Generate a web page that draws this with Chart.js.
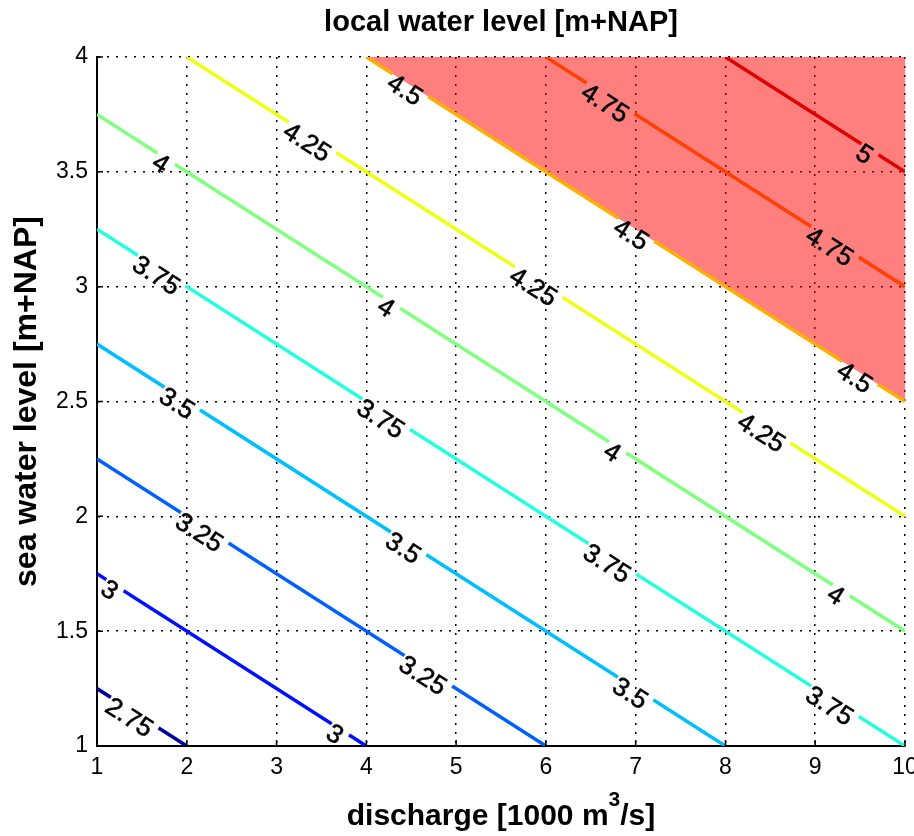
<!DOCTYPE html>
<html>
<head>
<meta charset="utf-8">
<title>local water level</title>
<script src="https://cdn.jsdelivr.net/npm/chart.js@4/dist/chart.umd.min.js"></script>
<style>
    html, body { margin: 0; padding: 0; background: #fff; }
    canvas { display: block; }
</style>
</head>
<body>
<canvas id="contourChart" width="914" height="836"></canvas>
<script>
// CONTOUR DATA
const levels     = [2.75, 3, 3.25, 3.5, 3.75, 4, 4.25, 4.5, 4.75, 5];
const lineStartX = [1, 1, 1, 1, 1, 1, 2, 4, 6, 8];
const lineStartY = [1.25, 1.75, 2.25, 2.75, 3.25, 3.75, 4, 4, 4, 4];
const lineEndX   = [2, 4, 6, 8, 10, 10, 10, 10, 10, 10];
const lineEndY   = [1, 1, 1, 1, 1, 1.5, 2, 2.5, 3, 3.5];

// inline contour labels: level and the x where the label sits on its line
const labelLevels = [2.75, 3, 3, 3.25, 3.25, 3.5, 3.5, 3.5, 3.75, 3.75, 3.75, 3.75,
                     4, 4, 4, 4, 4.25, 4.25, 4.25, 4.5, 4.5, 4.5, 4.75, 4.75, 5];
const labelX      = [1.42, 1.2, 3.71, 2.2, 4.69, 1.95, 4.47, 7.0, 1.72, 4.22, 6.74, 9.22,
                     1.77, 4.28, 6.8, 9.29, 3.4, 5.92, 8.46, 4.49, 7.01, 9.5, 6.72, 9.22, 9.61];

const xTicks = [1, 2, 3, 4, 5, 6, 7, 8, 9, 10];
const yTicks = [1, 1.5, 2, 2.5, 3, 3.5, 4];

// area above this contour is shaded
const shadedLevel = 4.5;

const levelColors = ['#00009f', '#0010ff', '#0060ff', '#00bfff', '#20ffdf',
                     '#80ff80', '#efff10', '#ffaf00', '#ff4000', '#df0000'];

const FONT = '"Liberation Sans", Arial, sans-serif';
const LABEL_FONT = '26px ' + FONT;

function contourPoints(i) {
    return [
        { x: lineStartX[i], y: lineStartY[i] },
        { x: lineEndX[i], y: lineEndY[i] }
    ];
}

// pixel position + angle of every label belonging to contour i
function labelPlacements(chart, i) {
    const xs = chart.scales.x, ys = chart.scales.y;
    const x1 = xs.getPixelForValue(lineStartX[i]), y1 = ys.getPixelForValue(lineStartY[i]);
    const x2 = xs.getPixelForValue(lineEndX[i]), y2 = ys.getPixelForValue(lineEndY[i]);
    const angle = Math.atan2(y2 - y1, x2 - x1);
    const ctx = chart.ctx;
    ctx.save();
    ctx.font = LABEL_FONT;
    const out = [];
    labelLevels.forEach((lvl, k) => {
        if (lvl !== levels[i]) return;
        const px = xs.getPixelForValue(labelX[k]);
        const t = (px - x1) / (x2 - x1);
        const text = String(lvl);
        out.push({ x: px, y: y1 + t * (y2 - y1), angle: angle, text: text, width: ctx.measureText(text).width });
    });
    ctx.restore();
    return out;
}

// cut gaps into the contour lines where labels go, then write the labels
const contourLabelPlugin = {
    id: 'contourLabels',
    beforeDatasetDraw(chart, args) {
        const i = chart.data.datasets[args.index].contourIndex;
        if (i === undefined) return;
        const ctx = chart.ctx;
        ctx.save();
        ctx.beginPath();
        ctx.rect(0, 0, chart.width, chart.height);
        labelPlacements(chart, i).forEach(p => {
            const hw = p.width / 2 + 3, hh = 12;
            const c = Math.cos(p.angle), s = Math.sin(p.angle);
            [[-hw, -hh], [hw, -hh], [hw, hh], [-hw, hh]].forEach(([u, v], k) => {
                const X = p.x + u * c - v * s, Y = p.y + u * s + v * c;
                if (k === 0) ctx.moveTo(X, Y); else ctx.lineTo(X, Y);
            });
            ctx.closePath();
        });
        ctx.clip('evenodd');
    },
    afterDatasetDraw(chart, args) {
        if (chart.data.datasets[args.index].contourIndex === undefined) return;
        chart.ctx.restore();
    },
    afterDatasetsDraw(chart) {
        const ctx = chart.ctx, area = chart.chartArea;
        ctx.save();
        ctx.beginPath();
        ctx.rect(area.left, area.top, area.right - area.left, area.bottom - area.top);
        ctx.clip();
        ctx.font = LABEL_FONT;
        ctx.fillStyle = '#000';
        ctx.strokeStyle = '#000';
        ctx.lineWidth = 0.6;
        ctx.textAlign = 'center';
        ctx.textBaseline = 'middle';
        levels.forEach((lvl, i) => {
            labelPlacements(chart, i).forEach(p => {
                ctx.save();
                ctx.translate(p.x, p.y);
                ctx.rotate(p.angle);
                ctx.fillText(p.text, -2, 8);
                ctx.strokeText(p.text, -2, 8);
                ctx.restore();
            });
        });
        ctx.restore();
    }
};

// inward tick marks and the x axis title (with superscript)
const axisExtrasPlugin = {
    id: 'axisExtras',
    afterDraw(chart) {
        const ctx = chart.ctx, area = chart.chartArea;
        const xs = chart.scales.x, ys = chart.scales.y;
        ctx.save();
        ctx.strokeStyle = '#000';
        ctx.lineWidth = 1.5;
        ctx.beginPath();
        xTicks.forEach(v => {
            const px = xs.getPixelForValue(v);
            ctx.moveTo(px, area.bottom);
            ctx.lineTo(px, area.bottom - 6);
        });
        yTicks.forEach(v => {
            const py = ys.getPixelForValue(v);
            ctx.moveTo(area.left, py);
            ctx.lineTo(area.left + 6, py);
        });
        ctx.stroke();

        const parts = [
            { text: 'discharge [1000 m', font: 'bold 30px ' + FONT, dy: 0 },
            { text: '3', font: 'bold 21px ' + FONT, dy: -19 },
            { text: '/s]', font: 'bold 30px ' + FONT, dy: 0 }
        ];
        let total = 0;
        parts.forEach(p => { ctx.font = p.font; p.w = ctx.measureText(p.text).width; total += p.w; });
        let x = (area.left + area.right) / 2 - total / 2;
        const baseline = 825;
        ctx.fillStyle = '#000';
        ctx.textAlign = 'left';
        ctx.textBaseline = 'alphabetic';
        parts.forEach(p => {
            ctx.font = p.font;
            ctx.fillText(p.text, x, baseline + p.dy);
            x += p.w;
        });
        ctx.restore();
    }
};

function buildDatasets() {
    const sets = [];
    const shaded = levels.indexOf(shadedLevel);
    sets.push({
        data: contourPoints(shaded),
        borderWidth: 0,
        borderColor: 'rgba(0,0,0,0)',
        backgroundColor: 'rgba(255, 0, 0, 0.5)',
        fill: 'end',
        pointRadius: 0,
        order: 20
    });
    levels.forEach((lvl, i) => {
        sets.push({
            label: String(lvl),
            contourIndex: i,
            data: contourPoints(i),
            borderColor: levelColors[i],
            borderWidth: 3.5,
            fill: false,
            pointRadius: 0,
            order: 1
        });
    });
    return sets;
}

const ctx = document.getElementById('contourChart').getContext('2d');

new Chart(ctx, {
    type: 'line',
    data: { datasets: buildDatasets() },
    plugins: [contourLabelPlugin, axisExtrasPlugin],
    options: {
        responsive: false,
        animation: false,
        devicePixelRatio: 1,
        layout: { padding: { top: 0, right: 9, bottom: 0, left: 0 } },
        plugins: {
            legend: { display: false },
            tooltip: { enabled: false },
            title: {
                display: true,
                fullSize: false,
                text: 'local water level [m+NAP]',
                color: '#000',
                font: { family: FONT, size: 29, weight: 'bold', lineHeight: 1.2 },
                padding: { top: 6, bottom: 16.2 }
            }
        },
        scales: {
            x: {
                type: 'linear',
                min: 1,
                max: 10,
                afterBuildTicks: s => { s.ticks = xTicks.map(v => ({ value: v })); },
                afterFit: s => { s.height = 90; s.paddingLeft = 0; s.paddingRight = 0; },
                grid: { color: '#000', lineWidth: 1.5, drawTicks: false },
                border: { display: true, color: '#000', width: 2, dash: [2, 7] },
                ticks: {
                    color: '#000',
                    padding: 8,
                    maxRotation: 0,
                    font: { family: FONT, size: 23 },
                    callback: v => String(v)
                }
            },
            y: {
                type: 'linear',
                min: 1,
                max: 4,
                afterBuildTicks: s => { s.ticks = yTicks.map(v => ({ value: v })); },
                afterFit: s => { s.width = 97; },
                grid: { color: '#000', lineWidth: 1.5, drawTicks: false },
                border: { display: true, color: '#000', width: 2, dash: [2, 7] },
                ticks: {
                    color: '#000',
                    padding: 9,
                    font: { family: FONT, size: 23 },
                    callback: v => String(v)
                },
                title: {
                    display: true,
                    text: 'sea water level [m+NAP]',
                    color: '#000',
                    font: { family: FONT, size: 32, weight: 'bold', lineHeight: 1.2 },
                    padding: { top: 8, bottom: 0 }
                }
            }
        }
    }
});
</script>
</body>
</html>
